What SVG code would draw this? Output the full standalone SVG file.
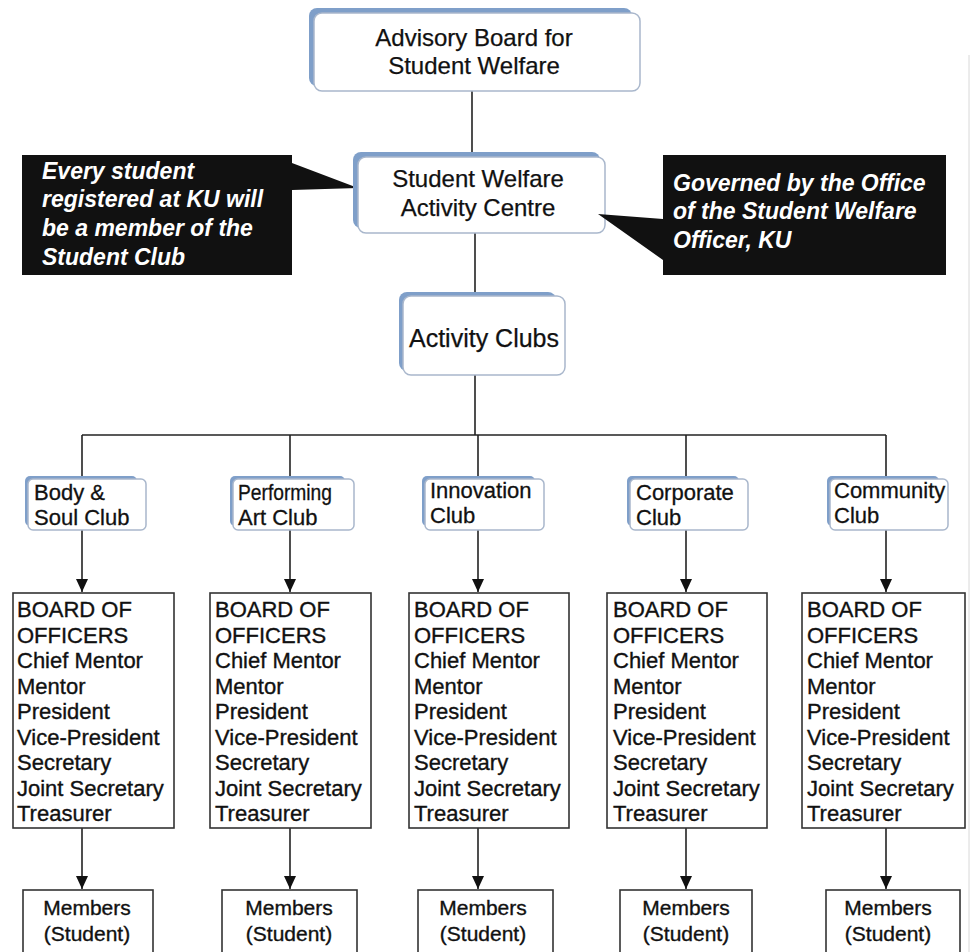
<svg xmlns="http://www.w3.org/2000/svg" width="971" height="952" viewBox="0 0 971 952">
<defs>
<style>
text{font-family:"Liberation Sans",Arial,sans-serif;fill:#111}
.shadow{fill:#7f9fc9;stroke:none}
.card{fill:#fff;stroke:#a9b7cc;stroke-width:1.5}
.big{font-size:24px;stroke:#111;stroke-width:0.25}
.club{font-size:22px;stroke:#111;stroke-width:0.3}
.board{fill:#fff;stroke:#333;stroke-width:1.6}
.btxt{font-size:22px;stroke:#111;stroke-width:0.35}
.mem{font-size:21px;text-anchor:middle;stroke:#111;stroke-width:0.35}
.call{fill:#111}
.ctxt{font-size:23px;font-weight:bold;font-style:italic;fill:#fff}
.line{stroke:#222;stroke-width:1.6;fill:none}
</style>
<marker id="arr" viewBox="0 0 13 12" refX="13" refY="6" markerWidth="13" markerHeight="12" markerUnits="userSpaceOnUse" orient="auto">
<path d="M0,0 L13,6 L0,12 Z" fill="#111"/>
</marker>
</defs>
<rect width="971" height="952" fill="#fff"/>
<line x1="969" y1="55" x2="969" y2="952" stroke="#d8d8d8" stroke-width="1"/>

<g id="connectors">
<line class="line" x1="472" y1="91" x2="472" y2="154"/>
<line class="line" x1="475" y1="233" x2="475" y2="294"/>
<line class="line" x1="475" y1="375" x2="475" y2="435"/>
<line class="line" x1="82" y1="435" x2="886" y2="435"/>
<line class="line" x1="82" y1="435" x2="82" y2="478"/>
<line class="line" x1="290" y1="435" x2="290" y2="478"/>
<line class="line" x1="478" y1="435" x2="478" y2="478"/>
<line class="line" x1="686" y1="435" x2="686" y2="478"/>
<line class="line" x1="886" y1="435" x2="886" y2="478"/>
<line class="line" x1="82" y1="530" x2="82" y2="592" marker-end="url(#arr)"/>
<line class="line" x1="290" y1="530" x2="290" y2="592" marker-end="url(#arr)"/>
<line class="line" x1="478" y1="530" x2="478" y2="592" marker-end="url(#arr)"/>
<line class="line" x1="686" y1="530" x2="686" y2="592" marker-end="url(#arr)"/>
<line class="line" x1="886" y1="530" x2="886" y2="592" marker-end="url(#arr)"/>
<line class="line" x1="82" y1="828" x2="82" y2="889" marker-end="url(#arr)"/>
<line class="line" x1="290" y1="828" x2="290" y2="889" marker-end="url(#arr)"/>
<line class="line" x1="478" y1="828" x2="478" y2="889" marker-end="url(#arr)"/>
<line class="line" x1="686" y1="828" x2="686" y2="889" marker-end="url(#arr)"/>
<line class="line" x1="886" y1="828" x2="886" y2="889" marker-end="url(#arr)"/>
</g>

<g id="advisory">
<rect class="shadow" x="309" y="8" width="323" height="78" rx="8"/>
<rect class="card" x="314" y="13" width="326" height="78" rx="8"/>
<text class="big" x="474" y="46" text-anchor="middle">Advisory Board for</text>
<text class="big" x="474" y="74" text-anchor="middle">Student Welfare</text>
</g>

<g id="callout-left">
<path class="call" d="M22,155 H292 V163 L358,188 L292,190 V275 H22 Z"/>
<text class="ctxt" x="42" y="179">Every student</text>
<text class="ctxt" x="42" y="207">registered at KU will</text>
<text class="ctxt" x="42" y="236">be a member of the</text>
<text class="ctxt" x="42" y="265">Student Club</text>
</g>

<g id="swac">
<rect class="shadow" x="353" y="152" width="247" height="76" rx="8"/>
<rect class="card" x="358" y="157" width="247" height="76" rx="8"/>
<text class="big" x="478" y="187" text-anchor="middle">Student Welfare</text>
<text class="big" x="478" y="216" text-anchor="middle">Activity Centre</text>
</g>

<g id="callout-right">
<path class="call" d="M663,155 H946 V275 H663 V260 L598,214 L663,219 Z"/>
<text class="ctxt" x="673" y="191">Governed by the Office</text>
<text class="ctxt" x="673" y="219">of the Student Welfare</text>
<text class="ctxt" x="673" y="248">Officer, KU</text>
</g>

<g id="activity-clubs">
<rect class="shadow" x="399" y="292" width="157" height="79" rx="8"/>
<rect class="card" x="403" y="296" width="162" height="79" rx="8"/>
<text class="big" x="484" y="347" text-anchor="middle" style="font-size:25px">Activity Clubs</text>
</g>

<g id="club-body">
<rect class="shadow" x="25" y="476" width="112" height="50" rx="5"/>
<rect class="card" x="28" y="479" width="118" height="51" rx="5"/>
<text class="club" x="34" y="500">Body &amp;</text>
<text class="club" x="34" y="525">Soul Club</text>
</g>
<g id="club-performing">
<rect class="shadow" x="230" y="476" width="115" height="50" rx="5"/>
<rect class="card" x="233" y="479" width="121" height="51" rx="5"/>
<text class="club" x="238" y="500" textLength="94" lengthAdjust="spacingAndGlyphs">Performing</text>
<text class="club" x="238" y="525">Art Club</text>
</g>
<g id="club-innovation">
<rect class="shadow" x="422" y="476" width="113" height="50" rx="5"/>
<rect class="card" x="425" y="479" width="119" height="51" rx="5"/>
<text class="club" x="430" y="498">Innovation</text>
<text class="club" x="430" y="523">Club</text>
</g>
<g id="club-corporate">
<rect class="shadow" x="627" y="476" width="112" height="50" rx="5"/>
<rect class="card" x="630" y="479" width="118" height="51" rx="5"/>
<text class="club" x="636" y="500">Corporate</text>
<text class="club" x="636" y="525">Club</text>
</g>
<g id="club-community">
<rect class="shadow" x="827" y="476" width="112" height="50" rx="5"/>
<rect class="card" x="830" y="479" width="118" height="51" rx="5"/>
<text class="club" x="834" y="498">Community</text>
<text class="club" x="834" y="523">Club</text>
</g>

<g id="board-1">
<rect class="board" x="13" y="593" width="161" height="235"/>
<text class="btxt"><tspan x="17" y="617">BOARD OF</tspan><tspan x="17" y="643">OFFICERS</tspan><tspan x="17" y="668">Chief Mentor</tspan><tspan x="17" y="694">Mentor</tspan><tspan x="17" y="719">President</tspan><tspan x="17" y="745">Vice-President</tspan><tspan x="17" y="770">Secretary</tspan><tspan x="17" y="796">Joint Secretary</tspan><tspan x="17" y="821">Treasurer</tspan></text>
</g>
<g id="board-2">
<rect class="board" x="210" y="593" width="161" height="235"/>
<text class="btxt"><tspan x="215" y="617">BOARD OF</tspan><tspan x="215" y="643">OFFICERS</tspan><tspan x="215" y="668">Chief Mentor</tspan><tspan x="215" y="694">Mentor</tspan><tspan x="215" y="719">President</tspan><tspan x="215" y="745">Vice-President</tspan><tspan x="215" y="770">Secretary</tspan><tspan x="215" y="796">Joint Secretary</tspan><tspan x="215" y="821">Treasurer</tspan></text>
</g>
<g id="board-3">
<rect class="board" x="409" y="593" width="160" height="235"/>
<text class="btxt"><tspan x="414" y="617">BOARD OF</tspan><tspan x="414" y="643">OFFICERS</tspan><tspan x="414" y="668">Chief Mentor</tspan><tspan x="414" y="694">Mentor</tspan><tspan x="414" y="719">President</tspan><tspan x="414" y="745">Vice-President</tspan><tspan x="414" y="770">Secretary</tspan><tspan x="414" y="796">Joint Secretary</tspan><tspan x="414" y="821">Treasurer</tspan></text>
</g>
<g id="board-4">
<rect class="board" x="607" y="593" width="160" height="235"/>
<text class="btxt"><tspan x="613" y="617">BOARD OF</tspan><tspan x="613" y="643">OFFICERS</tspan><tspan x="613" y="668">Chief Mentor</tspan><tspan x="613" y="694">Mentor</tspan><tspan x="613" y="719">President</tspan><tspan x="613" y="745">Vice-President</tspan><tspan x="613" y="770">Secretary</tspan><tspan x="613" y="796">Joint Secretary</tspan><tspan x="613" y="821">Treasurer</tspan></text>
</g>
<g id="board-5">
<rect class="board" x="802" y="593" width="163" height="235"/>
<text class="btxt"><tspan x="807" y="617">BOARD OF</tspan><tspan x="807" y="643">OFFICERS</tspan><tspan x="807" y="668">Chief Mentor</tspan><tspan x="807" y="694">Mentor</tspan><tspan x="807" y="719">President</tspan><tspan x="807" y="745">Vice-President</tspan><tspan x="807" y="770">Secretary</tspan><tspan x="807" y="796">Joint Secretary</tspan><tspan x="807" y="821">Treasurer</tspan></text>
</g>

<g id="members-1">
<rect class="board" x="23" y="890" width="130" height="80"/>
<text class="mem" x="87" y="915">Members</text>
<text class="mem" x="87" y="941">(Student)</text>
</g>
<g id="members-2">
<rect class="board" x="222" y="890" width="135" height="80"/>
<text class="mem" x="289" y="915">Members</text>
<text class="mem" x="289" y="941">(Student)</text>
</g>
<g id="members-3">
<rect class="board" x="418" y="890" width="135" height="80"/>
<text class="mem" x="483" y="915">Members</text>
<text class="mem" x="483" y="941">(Student)</text>
</g>
<g id="members-4">
<rect class="board" x="620" y="890" width="132" height="80"/>
<text class="mem" x="686" y="915">Members</text>
<text class="mem" x="686" y="941">(Student)</text>
</g>
<g id="members-5">
<rect class="board" x="826" y="890" width="134" height="80"/>
<text class="mem" x="888" y="915">Members</text>
<text class="mem" x="888" y="941">(Student)</text>
</g>
</svg>
